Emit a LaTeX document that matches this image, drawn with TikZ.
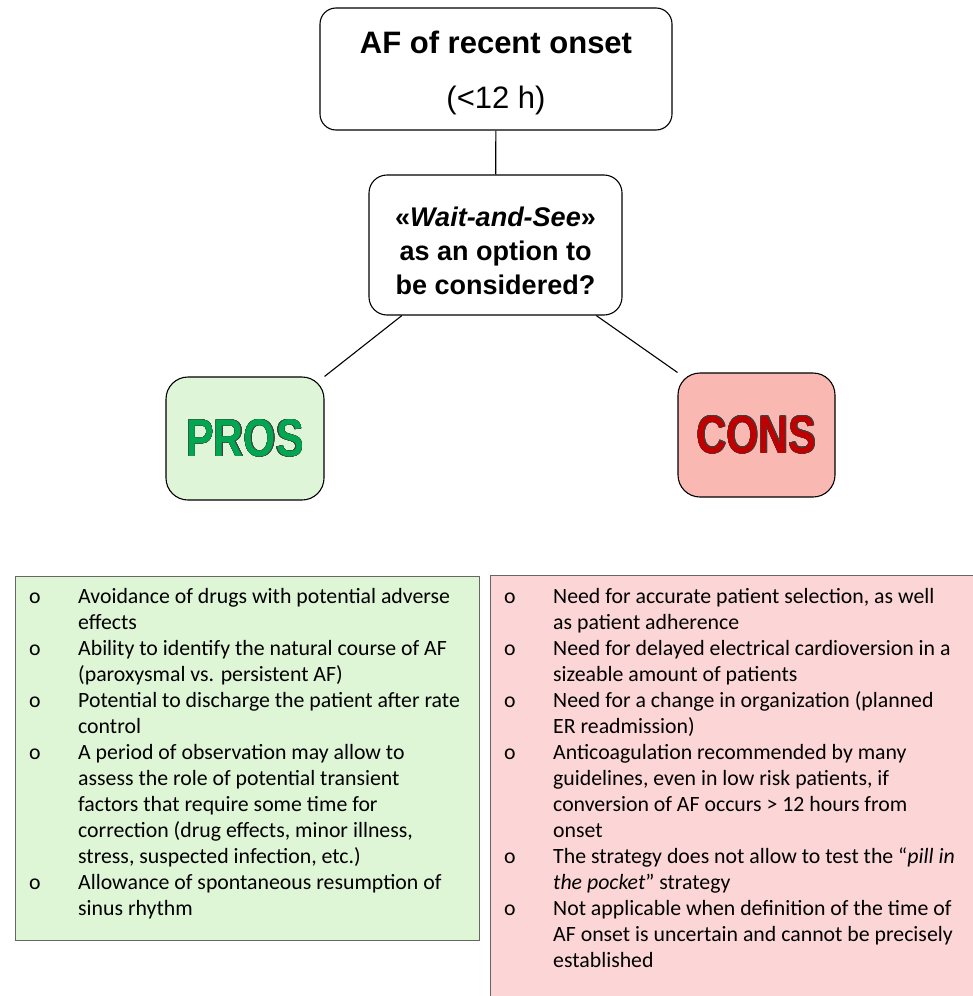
\documentclass[tikz,border=0pt]{standalone}
\usepackage{fontspec}
\setmainfont{Liberation Sans}
\newfontfamily\listfont{Carlito}
\newfontfamily\narrowfont[FakeStretch=0.78]{Liberation Sans}
\usepackage{xcolor}
\usepackage{array}
\usepackage{contour}
\usepackage{tikz}
\contourlength{0.4pt}
\definecolor{prosfill}{HTML}{DEF5D7}
\definecolor{consfill}{HTML}{FAB8B3}
\definecolor{proslist}{HTML}{DEF5D6}
\definecolor{conslist}{HTML}{FCD6D6}
\definecolor{prostext}{HTML}{00A650}
\definecolor{constext}{HTML}{C00000}
\newcommand{\itemrows}{\listfont\fontsize{21.8}{26}\selectfont}

\begin{document}
\begin{tikzpicture}[x=1pt,y=-1pt]
\tikzstyle{roundbox}=[draw, rounded corners=16pt, line width=1.1pt, inner sep=0pt, align=center]
\tikzstyle{verdict}=[draw, rounded corners=22pt, line width=1.1pt, inner sep=0pt, font=\narrowfont\bfseries\fontsize{53}{53}\selectfont]
\tikzstyle{listbox}=[draw=black!60, line width=0.8pt, inner sep=0pt, anchor=north west]
\tikzstyle{listtext}=[inner sep=0pt, anchor=base west, font=\itemrows]

\useasboundingbox (0,0) rectangle (973,996);

% question
\node[roundbox, minimum width=352pt, minimum height=122pt,
  font=\fontsize{31}{55}\selectfont] (onset) at (496,69)
  {\rule{0pt}{30pt}\bfseries AF of recent onset\\(<12 h)};
\node[roundbox, minimum width=253pt, minimum height=140pt, rounded corners=18pt,
  font=\bfseries\fontsize{27}{34}\selectfont] (wait) at (495.5,245)
  {\rule{0pt}{32pt}«\textit{Wait-and-See}»\\as an option to\\be considered?};

% pros and cons
\node[verdict, fill=prosfill, minimum width=158pt, minimum height=123pt] (pros) at (245,438.5)
  {\textcolor{prostext}{\contour{black!75}{PROS}}};
\node[verdict, fill=consfill, minimum width=157pt, minimum height=124pt] (cons) at (756.5,435)
  {\textcolor{constext}{\contour{black!75}{CONS}}};

\path[line width=1.1pt]
(onset) edge (wait)
(wait.217.7) edge (pros.north east)
(wait.-35.4) edge (cons.north west);


% the two lists
\node[listbox, fill=proslist, minimum width=464pt, minimum height=364pt] (proslistbox) at (15,576) {};
\node[listbox, fill=conslist, minimum width=490pt, minimum height=430pt] (conslistbox) at (490,575) {};

\node[listtext] (prositems) at (29,603) {%
\begin{tabular}[t]{@{}p{49pt}@{}l@{}}
o & Avoidance of drugs with potential adverse\\
  & effects\\
o & Ability to identify the natural course of AF\\
  & (paroxysmal vs. persistent AF)\\
o & Potential to discharge the patient after rate\\
  & control\\
o & A period of observation may allow to\\
  & assess the role of potential transient\\
  & factors that require some time for\\
  & correction (drug effects, minor illness,\\
  & stress, suspected infection, etc.)\\
o & Allowance of spontaneous resumption of\\
  & sinus rhythm
\end{tabular}};

\node[listtext] (consitems) at (504,603) {%
\begin{tabular}[t]{@{}p{49pt}@{}l@{}}
o & Need for accurate patient selection, as well\\
  & as patient adherence\\
o & Need for delayed electrical cardioversion in a\\
  & sizeable amount of patients\\
o & Need for a change in organization (planned\\
  & ER readmission)\\
o & Anticoagulation recommended by many\\
  & guidelines, even in low risk patients, if\\
  & conversion of AF occurs > 12 hours from\\
  & onset\\
o & The strategy does not allow to test the “\textit{pill in}\\
  & \textit{the pocket}” strategy\\
o & Not applicable when definition of the time of\\
  & AF onset is uncertain and cannot be precisely\\
  & established
\end{tabular}};

\end{tikzpicture}
\end{document}
